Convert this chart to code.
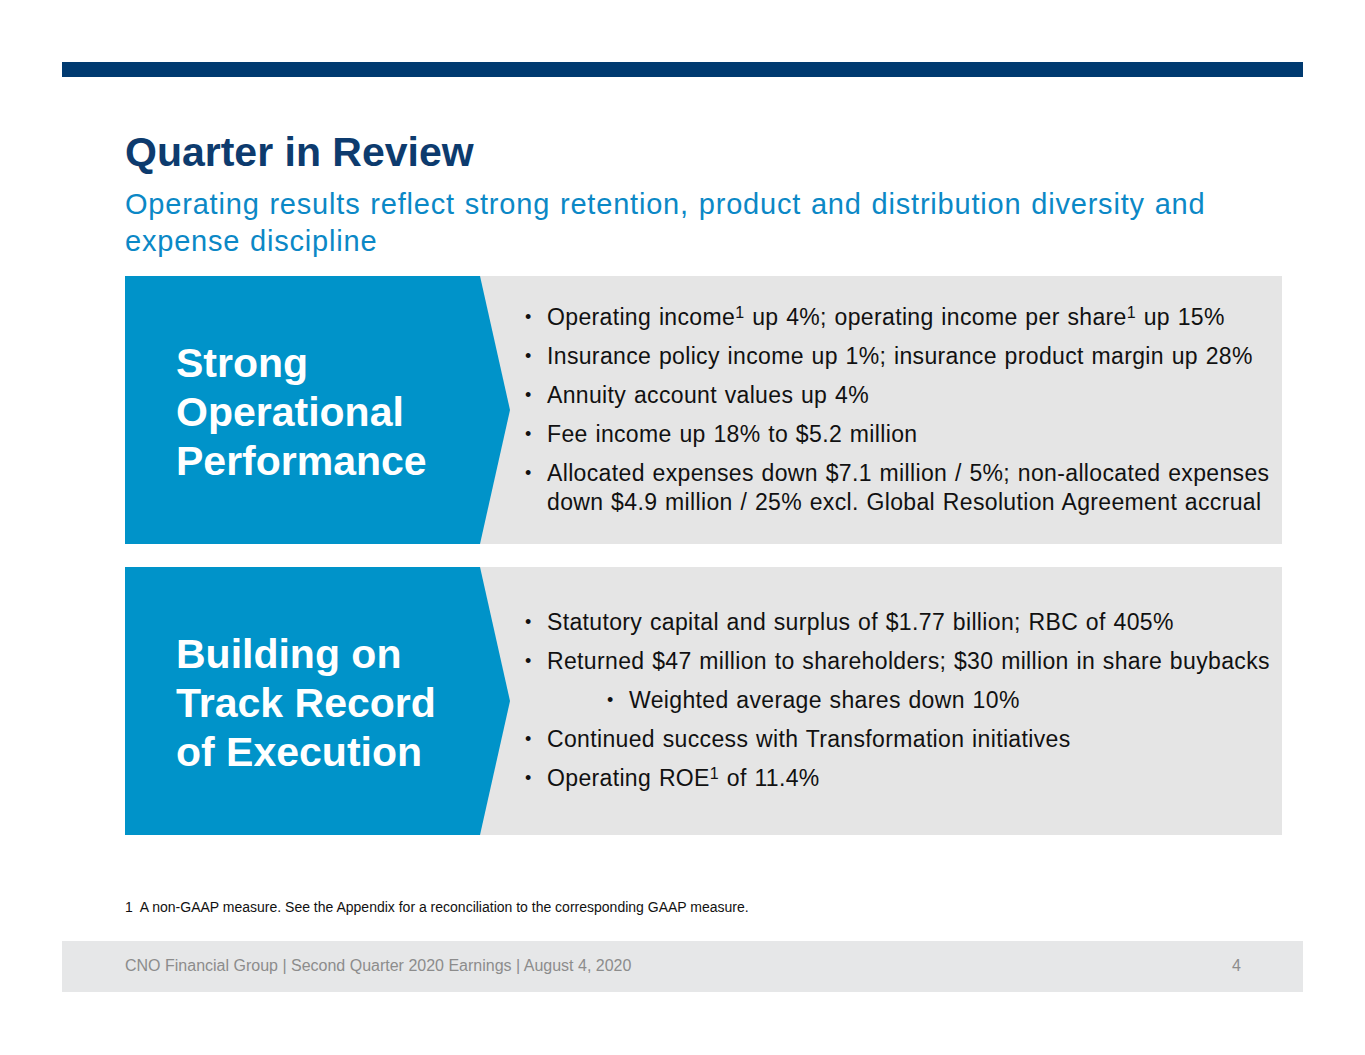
<!DOCTYPE html>
<html>
<head>
<meta charset="utf-8">
<script src="https://cdn.jsdelivr.net/npm/chart.js@4.4.0/dist/chart.umd.min.js"></script>
<style>
  html, body { margin: 0; padding: 0; background: #fff; }
  body { width: 1365px; height: 1055px; position: relative; overflow: hidden;
         font-family: "Liberation Sans", Arial, sans-serif; }
  .topbar { position: absolute; left: 62px; top: 62px; width: 1241px; height: 15px; background: #003a70; }
  .title { position: absolute; left: 125px; top: 130px; font-size: 41px; font-weight: bold; color: #0d3b6e; line-height: 44px; }
  .subtitle { position: absolute; left: 125px; top: 186px; width: 1160px; font-size: 29px; letter-spacing: 0.8px; word-spacing: 1px; color: #0b88c6; line-height: 37px; }
  .panel { position: absolute; left: 125px; width: 1157px; height: 268px; background: #e5e5e5; }
  .chev { position: absolute; left: 0; top: 0; width: 385px; height: 268px; background: #0093c9;
          clip-path: polygon(0 0, 355px 0, 385px 134px, 355px 268px, 0 268px);
          display: flex; align-items: center; }
  .chev h2 { margin: 0 0 0 51px; padding-top: 4px; color: #fff; font-size: 41px; line-height: 49px; font-weight: bold; }
  .bul { position: absolute; left: 400px; top: 0; margin: 0; padding: 0; list-style: none; font-size: 23px; letter-spacing: 0.35px; word-spacing: 1px; color: #111; }
  .bul li { position: relative; padding-left: 22px; line-height: 29px; margin-bottom: 10px; white-space: nowrap; }
  .bul li::before { content: "\2022"; position: absolute; left: 0; font-size: 18px; }
  .bul li.sub { margin-left: 82px; }
  .bul sup { font-size: 16px; line-height: 0; vertical-align: 7px; }
  .note { position: absolute; left: 125px; top: 899px; font-size: 14px; color: #111; }
  .footer { position: absolute; left: 62px; top: 941px; width: 1241px; height: 51px; background: #e6e7e8; }
  .footer span { position: absolute; top: 16px; font-size: 16px; color: #8c8c8c; }
</style>
</head>
<body>
<div class="topbar"></div>
<div class="title" id="title"></div>
<div class="subtitle" id="subtitle"></div>
<div id="panels"></div>
<div class="note" id="note"></div>
<div class="footer"><span id="foot" style="left:63px"></span><span id="page" style="left:1170px"></span></div>

<script>
// Slide text

const slideTitle = "Quarter in Review";
const slideSubtitle = "Operating results reflect strong retention, product and distribution diversity and expense discipline";

const headings = [
    ["Strong", "Operational", "Performance"],
    ["Building on", "Track Record", "of Execution"]
];

// "^1" marks a footnote superscript, "-" at the start marks a sub-bullet
const bullets1 = [
    "Operating income^1 up 4%; operating income per share^1 up 15%",
    "Insurance policy income up 1%; insurance product margin up 28%",
    "Annuity account values up 4%",
    "Fee income up 18% to $5.2 million",
    "Allocated expenses down $7.1 million / 5%; non-allocated expenses<br>down $4.9 million / 25% excl. Global Resolution Agreement accrual"
];

const bullets2 = [
    "Statutory capital and surplus of $1.77 billion; RBC of 405%",
    "Returned $47 million to shareholders; $30 million in share buybacks",
    "-Weighted average shares down 10%",
    "Continued success with Transformation initiatives",
    "Operating ROE^1 of 11.4%"
];

const footnote = "1&nbsp; A non-GAAP measure. See the Appendix for a reconciliation to the corresponding GAAP measure.";
const footerText = "CNO Financial Group | Second Quarter 2020 Earnings | August 4, 2020";
const pageNumber = "4";

// Build the slide

document.getElementById('title').textContent = slideTitle;
document.getElementById('subtitle').textContent = slideSubtitle;
document.getElementById('note').innerHTML = footnote;
document.getElementById('foot').textContent = footerText;
document.getElementById('page').textContent = pageNumber;

const panelTops = [276, 567];
const listTops = [27, 41];
const panelBox = document.getElementById('panels');

[bullets1, bullets2].forEach((list, i) => {
    let items = list.map(text => {
        let cls = '';
        if (text.startsWith('-')) {
            cls = ' class="sub"';
            text = text.slice(1);
        }
        return `<li${cls}>${text.replace(/\^1/g, '<sup>1</sup>')}</li>`;
    }).join('');

    panelBox.innerHTML +=
    `<div class="panel" style="top:${panelTops[i]}px">
        <div class="chev"><h2>${headings[i].join('<br>')}</h2></div>
        <ul class="bul" style="top:${listTops[i]}px">${items}</ul>
    </div>`;
});
</script>
</body>
</html>
